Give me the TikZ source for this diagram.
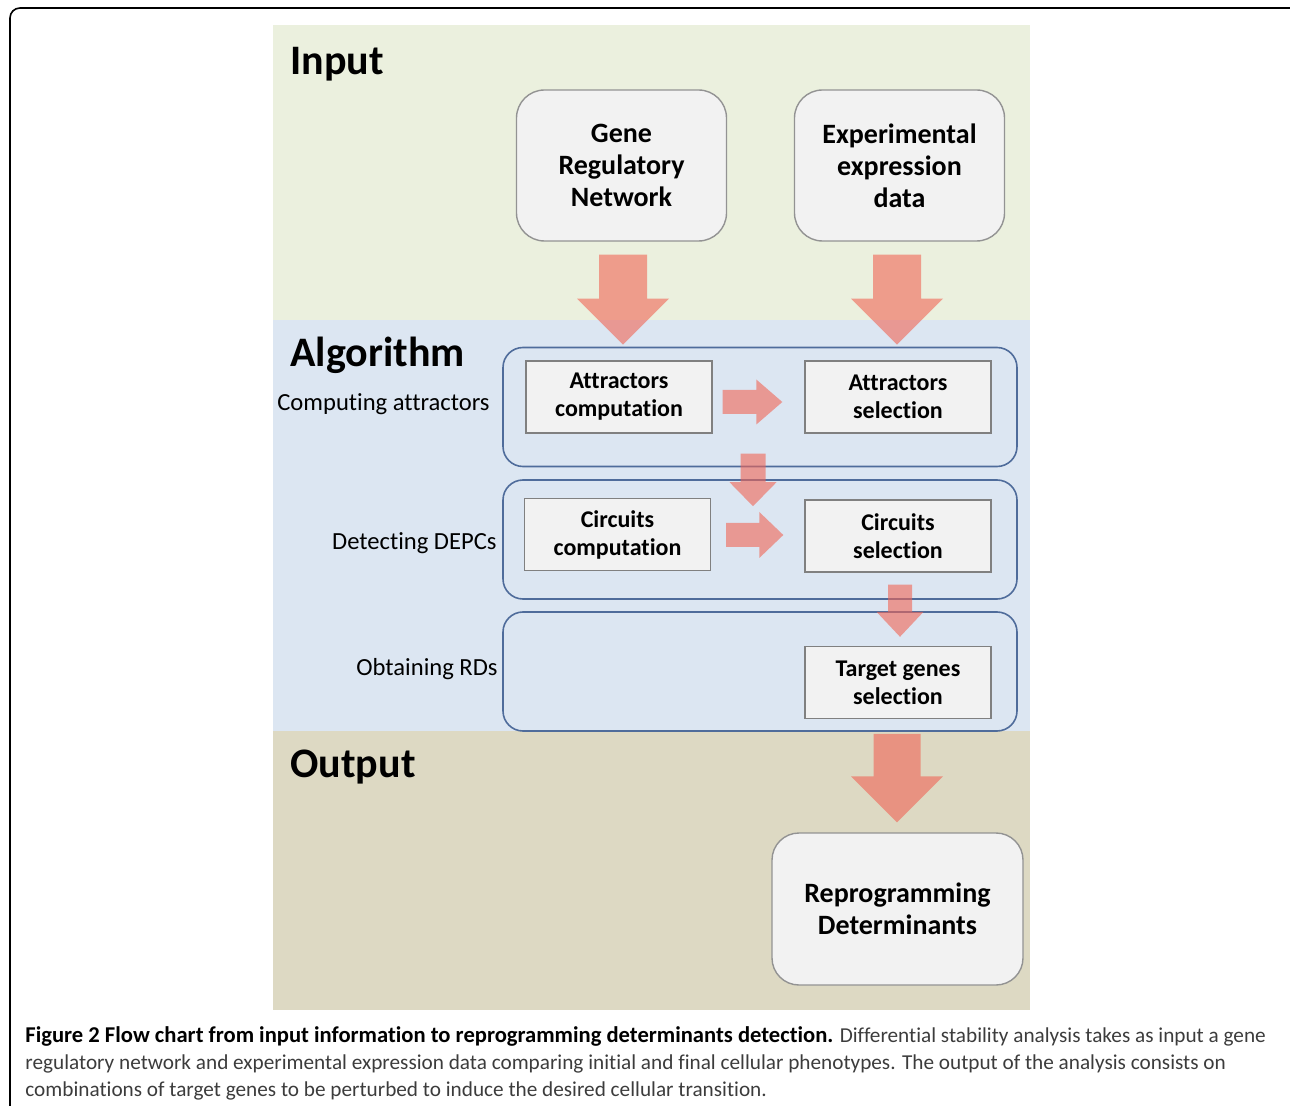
\documentclass[tikz,border=0pt]{standalone}
\usepackage{fontspec}
\setmainfont{Carlito}[Ligatures=NoCommon]
\usetikzlibrary{calc,positioning}

\definecolor{inputbg}{RGB}{235,240,222}
\definecolor{algbg}{RGB}{220,230,242}
\definecolor{outbg}{RGB}{221,217,195}
\definecolor{boxfill}{RGB}{242,242,242}
\definecolor{grpline}{RGB}{79,108,155}
\definecolor{arrowred}{RGB}{240,100,85}
\definecolor{captext}{RGB}{60,60,60}

\tikzset{
  inbox/.style={draw=gray!85, line width=0.7pt, fill=boxfill, rounded corners=14pt,
    align=center, font=\fontsize{14}{16}\selectfont\bfseries,
    minimum width=105pt, minimum height=75.5pt},
  stepbox/.style={draw=gray, line width=0.7pt, fill=boxfill, align=center,
    font=\fontsize{12}{14}\selectfont\bfseries, minimum width=93pt, minimum height=36pt},
  grpbox/.style={draw=grpline, line width=0.8pt, rounded corners=10pt,
    minimum width=257pt, minimum height=59.5pt},
  panellabel/.style={anchor=base west, inner sep=0pt, font=\fontsize{21}{24}\selectfont\bfseries},
  sidelabel/.style={anchor=east, inner sep=0pt, font=\fontsize{12.3}{14}\selectfont},
  caption/.style={anchor=base west, inner sep=0pt, text=captext, font=\fontsize{10.62}{13.5}\selectfont},
  blockarrow/.style={fill=arrowred, fill opacity=0.6},
}

% block arrows: start, tip, shaft half width, head half width, head length
\newcommand{\arrowdown}[5]{%
  \fill[blockarrow] let \p1=#1, \p2=#2 in
    (\x1-#3,\y1) -- (\x1+#3,\y1) -- (\x1+#3,\y2+#5) -- (\x1+#4,\y2+#5)
    -- (\x1,\y2) -- (\x1-#4,\y2+#5) -- (\x1-#3,\y2+#5) -- cycle;}
\newcommand{\arrowright}[5]{%
  \fill[blockarrow] let \p1=#1, \p2=#2 in
    (\x1,\y1-#3) -- (\x1,\y1+#3) -- (\x2-#5,\y1+#3) -- (\x2-#5,\y1+#4)
    -- (\x2,\y1) -- (\x2-#5,\y1-#4) -- (\x2-#5,\y1-#3) -- cycle;}

\begin{document}
\begin{tikzpicture}[x=0.5pt,y=-0.5pt]
  \useasboundingbox (0,0) rectangle (1290,1106);
  \begin{scope}
    \clip (0,0) rectangle (1290,1106);
    \draw[line width=0.8pt, rounded corners=5pt] (10,1130) -- (10,8) -- (1310,8);
  \end{scope}

  % panels
  \fill[inputbg] (273,25) rectangle (1030,320);
  \fill[algbg] (273,320) rectangle (1030,731);
  \fill[outbg] (273,731) rectangle (1030,1010);
  \node[panellabel] (inlab) at (290,75) {Input};
  \node[panellabel] (alglab) at (290,367) {Algorithm};
  \node[panellabel] (outlab) at (290,777) {Output};

  % input
  \node[inbox] (gene) at (621.5,165.5) {Gene\\Regulatory\\Network};
  \node[inbox] (exp) at (899.5,165.5) {Experimental\\expression\\data};

  % algorithm
  \node[grpbox] (grp1) at (760,407) {};
  \node[grpbox] (grp2) at (760,539.5) {};
  \node[grpbox] (grp3) at (760,671.5) {};
  \node[sidelabel] (lab1) at (490,404) {Computing attractors};
  \node[sidelabel] (lab2) at (497,543) {Detecting DEPCs};
  \node[sidelabel] (lab3) at (498,669) {Obtaining RDs};
  \node[stepbox] (attcomp) at (619,397) {Attractors\\computation};
  \node[stepbox] (attsel) at (898,397) {Attractors\\selection};
  \node[stepbox] (circcomp) at (617.5,534.5) {Circuits\\computation};
  \node[stepbox] (circsel) at (898,536) {Circuits\\selection};
  \node[stepbox] (tgsel) at (898,682.5) {Target genes\\selection};

  % output
  \node[inbox, rounded corners=13.5pt, minimum width=125.5pt, minimum height=76pt]
    (rd) at (897.5,909) {Reprogramming\\Determinants};

  % arrows
  \arrowdown{($(gene.south)+(1.5,13)$)}{($(grp1.north)+(0,-2)$)}{12pt}{23pt}{23pt}
  \arrowdown{($(exp.south)+(-2.5,13)$)}{($(grp1.north)+(0,-2)$)}{12pt}{23pt}{23pt}
  \arrowright{($(attcomp.east)+(10,5)$)}{($(attsel.west)+(-22,5)$)}{6pt}{11.25pt}{13pt}
  \arrowdown{($(attcomp.south east)!0.5!(attsel.south west)+(-5.5,20)$)}{($(grp2.north)+(0,27)$)}{6.25pt}{11.75pt}{12pt}
  \arrowright{($(circcomp.east)+(15,0.5)$)}{($(circsel.west)+(-21,-1)$)}{6pt}{11.5pt}{12pt}
  \arrowdown{($(circsel.south)+(2,12)$)}{($(tgsel.north)+(0,-9)$)}{6pt}{11.75pt}{12.5pt}
  \arrowdown{($(grp3.south -| tgsel)+(-1,2)$)}{($(rd.north)+(0,-10)$)}{11.75pt}{23pt}{23pt}

  % caption
  \node[caption] (cap1) at (25,1042) {{\fontsize{11.3}{13.5}\selectfont\bfseries\color{black}Figure 2 Flow chart from input information to reprogramming determinants detection.} Differential stability analysis takes as input a gene};
  \node[caption] (cap2) at (25,1069) {regulatory network and experimental expression data comparing initial and final cellular phenotypes. The output of the analysis consists on};
  \node[caption] (cap3) at (25,1096) {combinations of target genes to be perturbed to induce the desired cellular transition.};
\end{tikzpicture}
\end{document}
